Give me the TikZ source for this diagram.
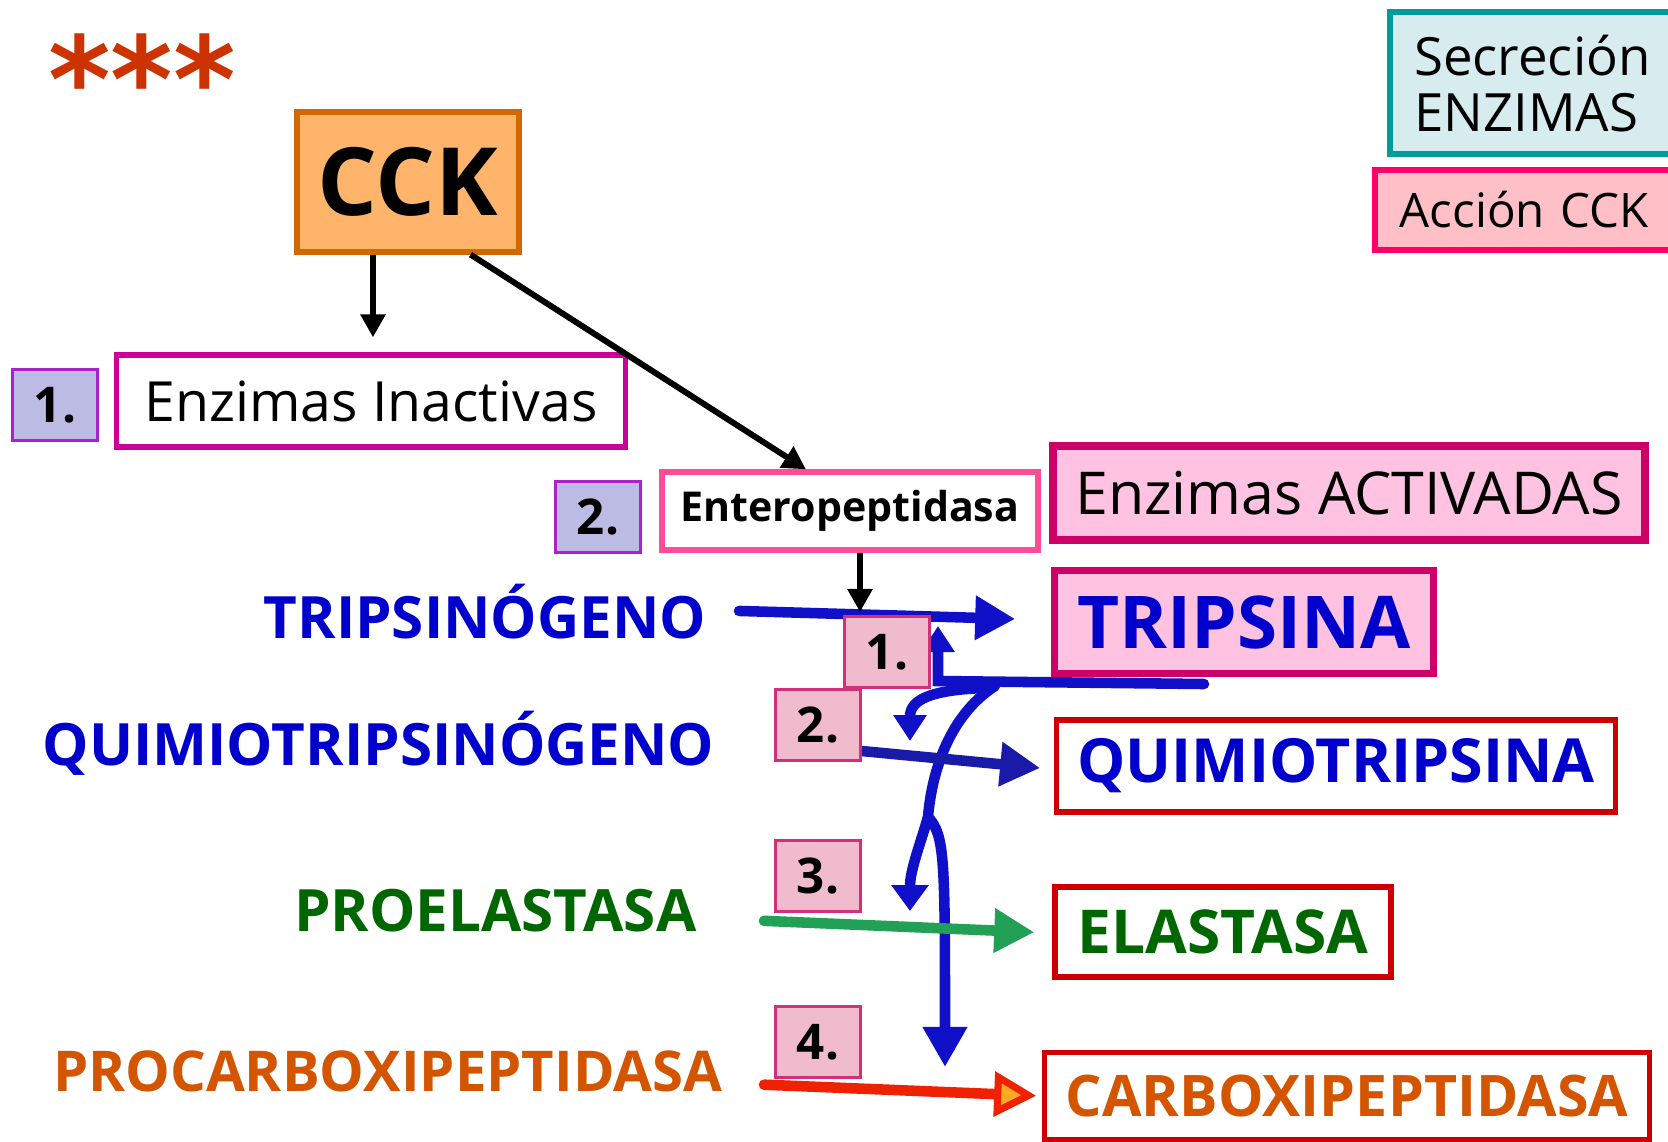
\documentclass[tikz,border=0pt]{standalone}
\usepackage{fontspec}
\setmainfont{Open Sans}
\newfontfamily\starfont{DejaVu Sans}
\usetikzlibrary{arrows.meta}
\pgfdeclarelayer{background}
\pgfsetlayers{background,main}

\definecolor{starred}{HTML}{CC3300}
\definecolor{cckfill}{HTML}{FFB46C}
\definecolor{cckline}{HTML}{D26900}
\definecolor{lavfill}{HTML}{BBBBE3}
\definecolor{lavline}{HTML}{AA22CC}
\definecolor{magline}{HTML}{CC0099}
\definecolor{entline}{HTML}{FF4D94}
\definecolor{actfill}{HTML}{FFC2E0}
\definecolor{actline}{HTML}{CC0066}
\definecolor{secfill}{HTML}{D6ECEF}
\definecolor{secline}{HTML}{009C9C}
\definecolor{accfill}{HTML}{FFBFC6}
\definecolor{accline}{HTML}{FF0066}
\definecolor{redline}{HTML}{CC0000}
\definecolor{numfill}{HTML}{F0BBCC}
\definecolor{numline}{HTML}{D4307A}
\definecolor{tblue}{HTML}{0000CC}
\definecolor{tgreen}{HTML}{006600}
\definecolor{torange}{HTML}{D45500}
\definecolor{handblue}{HTML}{1010C8}
\definecolor{darkhand}{HTML}{1A1AA8}
\definecolor{handgreen}{HTML}{22A055}
\definecolor{handred}{HTML}{EE2200}
\definecolor{headyellow}{HTML}{FFAA22}

\begin{document}
\begin{tikzpicture}[x=0.01cm,y=-0.01cm]
	\tikzset{
		box/.style={draw, rectangle, inner sep=0pt, line width=1.5pt},
		numbox/.style={box, fill=numfill, draw=numline, line width=0.8pt,
			minimum width=0.85cm, minimum height=0.71cm, font=\bfseries\fontsize{14}{16}\selectfont},
		lavbox/.style={numbox, fill=lavfill, draw=lavline},
		redbox/.style={box, draw=redline},
		bluelab/.style={text=tblue, inner sep=0pt, font=\bfseries\fontsize{16.6}{18}\selectfont},
		blackarrow/.style={line width=1.7pt, -{Triangle[length=0.23cm,width=0.24cm]}},
		hand/.style={line width=3pt, line cap=round, -{Triangle[length=0.4cm,width=0.42cm]}},
		smallhand/.style={line width=3pt, line cap=round, -{Triangle[length=0.26cm,width=0.32cm]}}
	}
	\useasboundingbox (0,0) rectangle (1668,1141);

	% stars
	\node[text=starred, inner sep=0pt, anchor=base, font=\starfont\bfseries\fontsize{34}{40}\selectfont] (stars) at (142,122) {***};

	% legend
	\node[box, fill=secfill, draw=secline, line width=1.8pt, anchor=north west, minimum height=1.42cm,
		inner xsep=0.24cm, text width=2.6cm, align=left, font=\fontsize{15}{16}\selectfont] (secr) at (1387,9) {Secreción\\ENZIMAS};
	\node[box, fill=accfill, draw=accline, line width=1.6pt, anchor=north west, minimum height=0.8cm,
		inner xsep=0.25cm, text width=2.7cm, align=left, font=\fontsize{13.5}{16}\selectfont] (accion) at (1372,167) {Acción CCK};

	% top part
	\node[box, fill=cckfill, draw=cckline, line width=1.7pt, minimum width=2.21cm, minimum height=1.39cm,
		font=\bfseries\fontsize{26.8}{28}\selectfont] (cck) at (408,182) {CCK};
	\node[lavbox] (num1a) at (55,405) {1.};
	\node[box, draw=magline, minimum width=5.09cm, minimum height=0.92cm,
		font=\fontsize{15.75}{18}\selectfont] (inact) at (371,401) {Enzimas Inactivas};
	\node[lavbox] (num2a) at (598,517) {2.};
	\node[box, draw=entline, minimum width=3.76cm, minimum height=0.78cm,
		font=\bfseries\fontsize{11.7}{14}\selectfont] (entero) at (850,511) {Enteropeptidasa};
	\node[box, fill=actfill, draw=actline, line width=2.3pt, minimum width=5.92cm, minimum height=0.94cm,
		font=\fontsize{16.8}{18}\selectfont] (activ) at (1349,493) {Enzimas ACTIVADAS};

	\draw[blackarrow, shorten >=0.15cm] ([xshift=-0.35cm]cck.south) -- ([xshift=-0.35cm]cck.south |- inact.north);
	\draw[blackarrow] ([xshift=-0.51cm]cck.south east) -- ([xshift=-0.44cm]entero.north);
	\draw[blackarrow, shorten >=0.05cm] ([xshift=0.1cm]entero.south) -- ([xshift=0.1cm]entero.south |- 0,617);

	% precursors and enzymes
	\node[bluelab, anchor=east] (tripsinogeno) at (707,612) {TRIPSINÓGENO};
	\node[bluelab, anchor=east] (quimiogeno) at (715,743) {QUIMIOTRIPSINÓGENO};
	\node[bluelab, text=tgreen, anchor=east] (proelast) at (697,911) {PROELASTASA};
	\node[bluelab, text=torange, anchor=east, font=\bfseries\fontsize{16}{18}\selectfont] (procarbo) at (723,1071) {PROCARBOXIPEPTIDASA};

	\node[box, fill=actfill, draw=actline, line width=1.8pt, minimum width=3.79cm, minimum height=1.03cm,
		text=tblue, font=\bfseries\fontsize{20.7}{22}\selectfont] (tripsina) at (1244,622) {TRIPSINA};
	\node[redbox, minimum width=5.58cm, minimum height=0.92cm, text=tblue,
		font=\bfseries\fontsize{17.3}{18}\selectfont] (quimio) at (1336,766) {QUIMIOTRIPSINA};
	\node[redbox, minimum width=3.36cm, minimum height=0.9cm, text=tgreen,
		font=\bfseries\fontsize{17.2}{18}\selectfont] (elast) at (1223,932) {ELASTASA};
	\node[redbox, minimum width=6.04cm, minimum height=0.87cm, text=torange,
		font=\bfseries\fontsize{16.3}{18}\selectfont] (carbo) at (1347,1096) {CARBOXIPEPTIDASA};

	% step numbers
	\node[numbox] (num1b) at (887,652) {1.};
	\node[numbox] (num2b) at (818,725) {2.};
	\node[numbox] (num3b) at (818,876) {3.};
	\node[numbox] (num4b) at (818,1042) {4.};

	% hand drawn activation arrows
	\coordinate (retstart) at (1204,684);
	\coordinate (retcorner) at (938,681);
	\coordinate (uptip) at (938,626);
	\coordinate (curvestart) at (995,686);
	\coordinate (fork) at (928,817);

	\begin{pgfonlayer}{background}
	\draw[hand, handblue, shorten <=0.32cm, shorten >=0.36cm] ([yshift=0.02cm]tripsinogeno.east) -- ([yshift=0.02cm]tripsina.west);
	\draw[smallhand, handblue] (retstart) -- (retcorner) -- (uptip);
	\draw[smallhand, handblue] (984,688) .. controls (930,690) and (910,700) .. (910,741);
	\draw[hand, handblue, -{Triangle[length=0.26cm,width=0.36cm]}] (curvestart) .. controls (950,715) and (932,770) .. (fork)
		.. controls (920,845) and (910,870) .. (910,911);
	\draw[hand, handblue] (fork) .. controls (945,835) and (945,860) .. (945,1067);
	\draw[hand, darkhand] ([yshift=-0.26cm]num2b.east) -- ([yshift=-0.02cm,xshift=-0.14cm]quimio.west);
	\draw[hand, handgreen, shorten <=0.67cm, shorten >=0.18cm] ([yshift=-0.07cm]proelast.east) -- ([yshift=-0.01cm]elast.west);
	\draw[hand, handred, -{Triangle[length=0.42cm,width=0.44cm,fill=headyellow,line width=2pt]}, shorten <=0.41cm, shorten >=0.06cm]
		([yshift=-0.12cm]procarbo.east) -- (carbo.west);
	\end{pgfonlayer}
\end{tikzpicture}
\end{document}
